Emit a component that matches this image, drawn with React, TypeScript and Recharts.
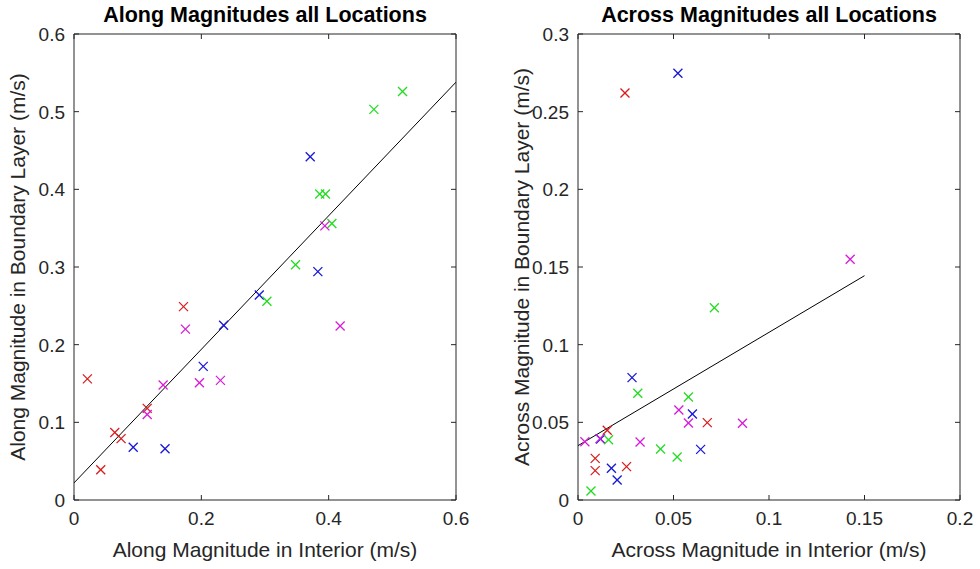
import { ReferenceLine, Scatter, ScatterChart, XAxis, YAxis } from 'recharts';

type Pt = { x: number; y: number };

// Along magnitudes (left panel): [interior, boundary layer]
const alongRed: Pt[] = [
    { x: 0.021, y: 0.156 },
    { x: 0.042, y: 0.039 },
    { x: 0.064, y: 0.087 },
    { x: 0.074, y: 0.079 },
    { x: 0.115, y: 0.118 },
    { x: 0.172, y: 0.249 },
];
const alongBlue: Pt[] = [
    { x: 0.093, y: 0.068 },
    { x: 0.143, y: 0.066 },
    { x: 0.203, y: 0.172 },
    { x: 0.235, y: 0.225 },
    { x: 0.291, y: 0.264 },
    { x: 0.371, y: 0.442 },
    { x: 0.383, y: 0.294 },
];
const alongGreen: Pt[] = [
    { x: 0.303, y: 0.256 },
    { x: 0.348, y: 0.303 },
    { x: 0.386, y: 0.394 },
    { x: 0.395, y: 0.394 },
    { x: 0.405, y: 0.356 },
    { x: 0.471, y: 0.503 },
    { x: 0.516, y: 0.526 },
];
const alongMagenta: Pt[] = [
    { x: 0.115, y: 0.11 },
    { x: 0.14, y: 0.148 },
    { x: 0.175, y: 0.22 },
    { x: 0.197, y: 0.151 },
    { x: 0.23, y: 0.154 },
    { x: 0.394, y: 0.353 },
    { x: 0.418, y: 0.224 },
];
const alongFit: Pt[] = [
    { x: 0, y: 0.022 },
    { x: 0.6, y: 0.538 },
];

// Across magnitudes (right panel)
const acrossRed: Pt[] = [
    { x: 0.0246, y: 0.262 },
    { x: 0.0153, y: 0.0449 },
    { x: 0.009, y: 0.0268 },
    { x: 0.009, y: 0.0189 },
    { x: 0.0254, y: 0.0215 },
    { x: 0.0677, y: 0.0498 },
];
const acrossBlue: Pt[] = [
    { x: 0.0523, y: 0.2747 },
    { x: 0.0283, y: 0.0788 },
    { x: 0.0599, y: 0.0554 },
    { x: 0.0118, y: 0.0393 },
    { x: 0.0642, y: 0.0326 },
    { x: 0.0175, y: 0.0204 },
    { x: 0.0205, y: 0.0129 },
];
const acrossGreen: Pt[] = [
    { x: 0.0714, y: 0.1238 },
    { x: 0.0313, y: 0.0687 },
    { x: 0.0578, y: 0.0663 },
    { x: 0.016, y: 0.0388 },
    { x: 0.0432, y: 0.0328 },
    { x: 0.0519, y: 0.0277 },
    { x: 0.0068, y: 0.0058 },
];
const acrossMagenta: Pt[] = [
    { x: 0.0528, y: 0.0579 },
    { x: 0.0578, y: 0.0496 },
    { x: 0.0861, y: 0.0494 },
    { x: 0.0036, y: 0.0375 },
    { x: 0.0115, y: 0.0395 },
    { x: 0.0325, y: 0.0373 },
    { x: 0.1425, y: 0.155 },
];
const acrossFit: Pt[] = [
    { x: 0, y: 0.035 },
    { x: 0.15, y: 0.1444 },
];

const alongTicks = [0, 0.1, 0.2, 0.3, 0.4, 0.5, 0.6];
const alongXTicks = [0, 0.2, 0.4, 0.6];
const acrossXTicks = [0, 0.05, 0.1, 0.15, 0.2];
const acrossYTicks = [0, 0.05, 0.1, 0.15, 0.2, 0.25, 0.3];

const COLORS = {
    red: '#d81c1c',
    blue: '#1818d8',
    green: '#22dc22',
    magenta: '#d81cd8',
};
const AXIS = '#262626';
const TEXT = '#262626';
const FONT = 'Helvetica, "Liberation Sans", Arial, sans-serif';

const CHART_H = 569;
const TOP = 34;
const BOTTOM = 69;
const PLOT_H = CHART_H - TOP - BOTTOM;
const YAXIS_W = 74;
const RIGHT = 18;
const PLOT_W = 382;

function Cross(props: any) {
    const { cx, cy, fill } = props;
    if (cx == null || cy == null) return null;
    const r = 4.5;
    return (
        <g stroke={fill} strokeWidth={1.3}>
            <line x1={cx - r} y1={cy - r} x2={cx + r} y2={cy + r} />
            <line x1={cx - r} y1={cy + r} x2={cx + r} y2={cy - r} />
        </g>
    );
}

function XTick(props: any) {
    const { x, y, payload } = props;
    return (
        <g>
            <line x1={x} x2={x} y1={y} y2={y - 5} stroke={AXIS} />
            <line x1={x} x2={x} y1={y - PLOT_H} y2={y - PLOT_H + 5} stroke={AXIS} />
            <text
                x={x}
                y={y + 25}
                textAnchor="middle"
                fontSize={19}
                fontFamily={FONT}
                fill={TEXT}
            >
                {payload.value}
            </text>
        </g>
    );
}

function YTick(props: any) {
    const { x, y, payload } = props;
    return (
        <g>
            <line x1={x} x2={x + 5} y1={y} y2={y} stroke={AXIS} />
            <line x1={x + PLOT_W} x2={x + PLOT_W - 5} y1={y} y2={y} stroke={AXIS} />
            <text
                x={x - 9}
                y={y + 7}
                textAnchor="end"
                fontSize={19}
                fontFamily={FONT}
                fill={TEXT}
            >
                {payload.value}
            </text>
        </g>
    );
}

function Panel({
    left,
    title,
    xLabel,
    yLabel,
    xTicks,
    yTicks,
    red,
    blue,
    green,
    magenta,
    fit,
}: {
    left: number;
    title: string;
    xLabel: string;
    yLabel: string;
    xTicks: number[];
    yTicks: number[];
    red: Pt[];
    blue: Pt[];
    green: Pt[];
    magenta: Pt[];
    fit: Pt[];
}) {
    const width = YAXIS_W + PLOT_W + RIGHT;
    const xMax = xTicks[xTicks.length - 1];
    const yMax = yTicks[yTicks.length - 1];
    const plotCenter = left + YAXIS_W + PLOT_W / 2;
    const groups = [
        { data: red, color: COLORS.red },
        { data: blue, color: COLORS.blue },
        { data: green, color: COLORS.green },
        { data: magenta, color: COLORS.magenta },
    ];

    return (
        <>
            <div
                style={{
                    position: 'absolute',
                    left: plotCenter - 250,
                    width: 500,
                    top: 3,
                    textAlign: 'center',
                    fontFamily: FONT,
                    fontWeight: 'bold',
                    fontSize: 21.5,
                    color: '#000',
                    lineHeight: '24px',
                }}
            >
                {title}
            </div>
            <div
                style={{
                    position: 'absolute',
                    left: plotCenter - 250,
                    width: 500,
                    top: 538,
                    textAlign: 'center',
                    fontFamily: FONT,
                    fontSize: 21,
                    color: TEXT,
                    lineHeight: '24px',
                }}
            >
                {xLabel}
            </div>
            <div
                style={{
                    position: 'absolute',
                    left: left + 18 - 250,
                    width: 500,
                    top: TOP + PLOT_H / 2 - 12,
                    textAlign: 'center',
                    fontFamily: FONT,
                    fontSize: 21,
                    color: TEXT,
                    lineHeight: '24px',
                    transform: 'rotate(-90deg)',
                    whiteSpace: 'nowrap',
                }}
            >
                {yLabel}
            </div>
            <div style={{ position: 'absolute', left, top: 0 }}>
                <ScatterChart
                    width={width}
                    height={CHART_H}
                    margin={{ top: TOP, right: RIGHT, bottom: 0, left: 0 }}
                >
                    <XAxis
                        type="number"
                        dataKey="x"
                        domain={[0, xMax]}
                        ticks={xTicks}
                        interval={0}
                        height={BOTTOM}
                        tickSize={0}
                        tickMargin={0}
                        tickLine={false}
                        tick={<XTick />}
                        stroke={AXIS}
                        allowDataOverflow
                    />
                    <YAxis
                        type="number"
                        dataKey="y"
                        domain={[0, yMax]}
                        ticks={yTicks}
                        interval={0}
                        width={YAXIS_W}
                        tickSize={0}
                        tickMargin={0}
                        tickLine={false}
                        tick={<YTick />}
                        stroke={AXIS}
                        allowDataOverflow
                    />
                    <ReferenceLine y={yMax} stroke={AXIS} />
                    <ReferenceLine x={xMax} stroke={AXIS} />
                    <Scatter
                        data={fit}
                        line={{ stroke: '#000', strokeWidth: 1 }}
                        shape={() => <g />}
                        isAnimationActive={false}
                    />
                    {groups.map((g) => (
                        <Scatter
                            key={g.color}
                            data={g.data}
                            fill={g.color}
                            shape={<Cross />}
                            isAnimationActive={false}
                        />
                    ))}
                </ScatterChart>
            </div>
        </>
    );
}

export default function App() {
    return (
        <div
            style={{
                position: 'absolute',
                left: 0,
                top: 0,
                width: 980,
                height: 569,
                background: '#fff',
            }}
        >
            <Panel
                left={0}
                title="Along Magnitudes all Locations"
                xLabel="Along Magnitude in Interior (m/s)"
                yLabel="Along Magnitude in Boundary Layer (m/s)"
                xTicks={alongXTicks}
                yTicks={alongTicks}
                red={alongRed}
                blue={alongBlue}
                green={alongGreen}
                magenta={alongMagenta}
                fit={alongFit}
            />
            <Panel
                left={504}
                title="Across Magnitudes all Locations"
                xLabel="Across Magnitude in Interior (m/s)"
                yLabel="Across Magnitude in Boundary Layer (m/s)"
                xTicks={acrossXTicks}
                yTicks={acrossYTicks}
                red={acrossRed}
                blue={acrossBlue}
                green={acrossGreen}
                magenta={acrossMagenta}
                fit={acrossFit}
            />
        </div>
    );
}
